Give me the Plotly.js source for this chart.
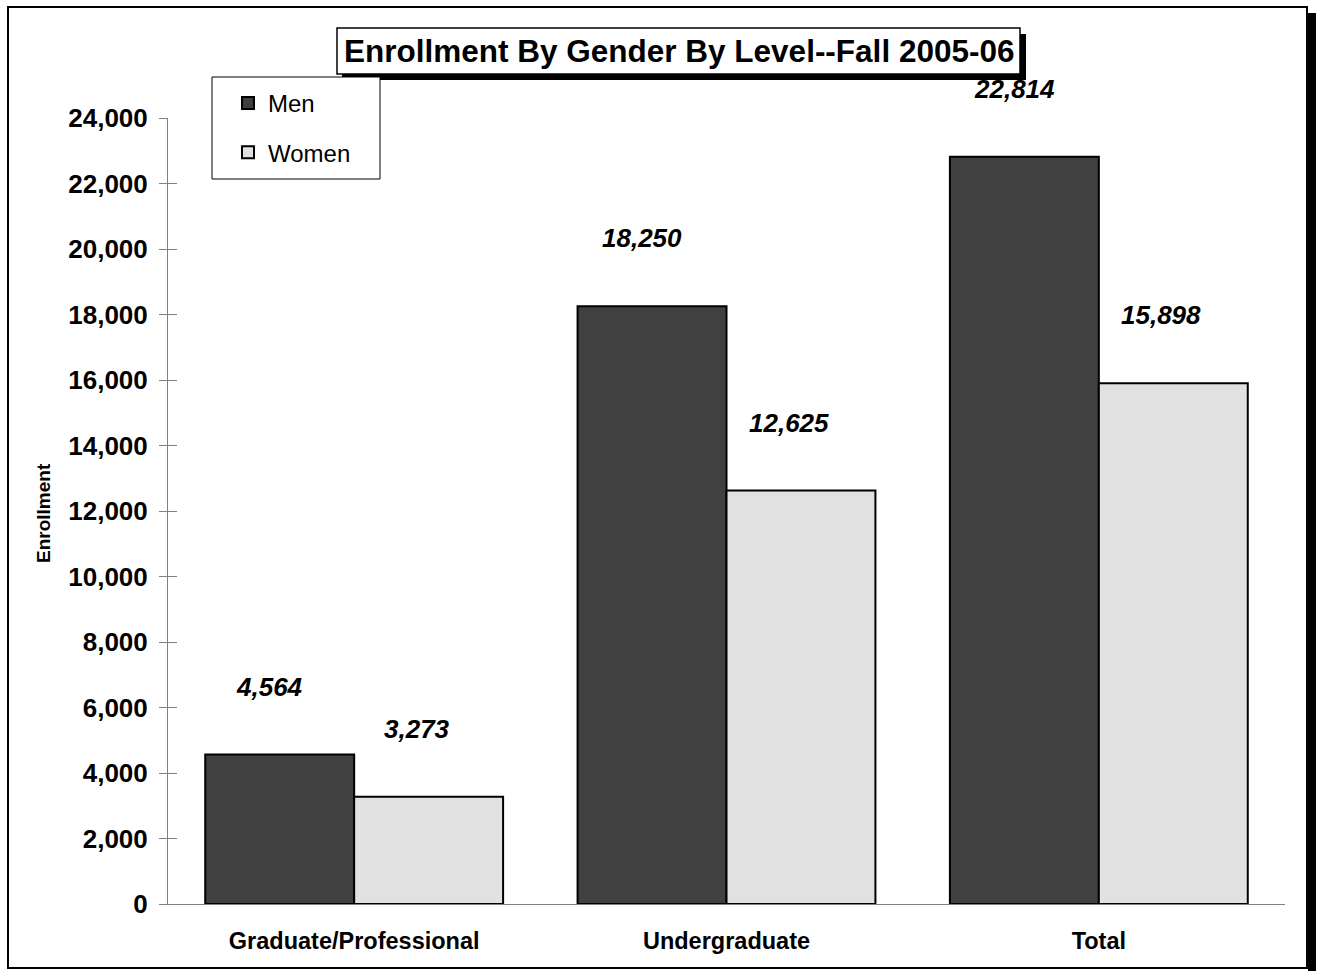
<!DOCTYPE html>
<html>
<head>
<meta charset="utf-8">
<script src="https://cdn.plot.ly/plotly-3.0.1.min.js"></script>
<style>
html,body{margin:0;padding:0;background:#fff;}
#chart{width:1321px;height:971px;}
</style>
</head>
<body>
<div id="chart"></div>
<script>
const categories = ["Graduate/Professional", "Undergraduate", "Total"];
const men = [4564, 18250, 22814];
const women = [3273, 12625, 15898];
const seriesNames = ["Men", "Women"];
const titleText = "Enrollment By Gender By Level--Fall 2005-06";
const yTitle = "Enrollment";

const FONT = "Liberation Sans, Arial, sans-serif";
const L = 168, R = 1285, T = 118, B = 904;
const W = R - L, H = B - T;
const px = v => (v - L) / W;
const py = v => (B - v) / H;

function fmt(n){ return n.toLocaleString('en-US'); }

const traces = [
  {type:'bar', name:seriesNames[0], x:categories, y:men, legendgroup:'a',
   marker:{color:'#404040', line:{color:'#000', width:2}}, hoverinfo:'y'},
  {type:'bar', name:seriesNames[1], x:categories, y:women, legendgroup:'b',
   marker:{color:'#e1e1e1', line:{color:'#000', width:2}}, hoverinfo:'y'},
  {type:'scatter', x:[], y:[], yaxis:'y2', showlegend:false, hoverinfo:'skip'}
];

const annotations = [];
const halfBar = W/3*0.8/4;
men.forEach((v,i)=>annotations.push({x:categories[i], y:v, xref:'x', yref:'y', text:'<b><i>'+fmt(v)+'</i></b>',
  showarrow:false, xshift:-halfBar-10, yshift:68, yanchor:'middle', font:{family:FONT, size:26, color:'#000'}}));
women.forEach((v,i)=>annotations.push({x:categories[i], y:v, xref:'x', yref:'y', text:'<b><i>'+fmt(v)+'</i></b>',
  showarrow:false, xshift:halfBar-12, yshift:68, yanchor:'middle', font:{family:FONT, size:26, color:'#000'}}));
annotations.push({xref:'paper', yref:'paper', x:px(679), y:py(51), text:'<b>'+titleText+'</b>', showarrow:false,
  xanchor:'center', yanchor:'middle', font:{family:FONT, size:31.5, color:'#000'}});
annotations.push({xref:'paper', yref:'paper', x:px(43), y:py(513), text:'<b>'+yTitle+'</b>', showarrow:false,
  textangle:-90, xanchor:'center', yanchor:'middle', font:{family:FONT, size:19, color:'#000'}});

const shapes = [
  // outer frame shadow + frame
  {type:'rect', xref:'paper', yref:'paper', x0:px(1308), x1:px(1316), y0:py(13), y1:py(975), fillcolor:'#000', line:{width:0}, layer:'below'},
  {type:'rect', xref:'paper', yref:'paper', x0:px(8), x1:px(1307), y0:py(7), y1:py(968), fillcolor:'rgba(0,0,0,0)', line:{color:'#000', width:2}, layer:'below'},
  // title box shadow + box
  {type:'rect', xref:'paper', yref:'paper', x0:px(342), x1:px(1026), y0:py(34), y1:py(80), fillcolor:'#000', line:{width:0}, layer:'above'},
  {type:'rect', xref:'paper', yref:'paper', x0:px(337), x1:px(1020), y0:py(28), y1:py(74), fillcolor:'#fff', line:{color:'#000', width:1.5}, layer:'above'},
  // legend box
  {type:'rect', xref:'paper', yref:'paper', x0:px(212), x1:px(380), y0:py(77), y1:py(179), fillcolor:'#fff', line:{color:'#000', width:1}, layer:'above'}
];

const layout = {
  width:1321, height:971,
  margin:{l:L, r:1321-R, t:T, b:971-B, pad:0},
  paper_bgcolor:'#fff', plot_bgcolor:'#fff',
  font:{family:FONT, color:'#000'},
  barmode:'group', bargap:0.2, bargroupgap:0,
  showlegend:true,
  legend:{x:px(228), y:py(81), xanchor:'left', yanchor:'top', bgcolor:'rgba(0,0,0,0)', borderwidth:0,
    font:{family:FONT, size:24, color:'#000'}, traceorder:'grouped', tracegroupgap:15, itemclick:false, itemwidth:30},
  xaxis:{type:'category', showgrid:false, zeroline:false, showline:true, linecolor:'#808080', linewidth:1,
    ticks:'', tickfont:{family:FONT, size:23.5, weight:'bold', color:'#000'}, ticklabelstandoff:16, fixedrange:true},
  yaxis:{range:[0,24000], dtick:2000, tickformat:',d', showgrid:false, zeroline:false, showline:true,
    linecolor:'#808080', linewidth:1, ticks:'outside', ticklen:8, tickcolor:'#808080', tickwidth:1,
    tickfont:{family:FONT, size:26, weight:'bold', color:'#000'}, ticklabelstandoff:6, fixedrange:true},
  yaxis2:{overlaying:'y', range:[0,24000], dtick:2000, showgrid:false, zeroline:false, showline:false,
    ticks:'inside', ticklen:9, tickcolor:'#808080', tickwidth:1, showticklabels:false, side:'left', fixedrange:true},
  annotations:annotations,
  shapes:shapes
};

Plotly.newPlot('chart', traces, layout, {displayModeBar:false, staticPlot:true});
</script>
</body>
</html>
